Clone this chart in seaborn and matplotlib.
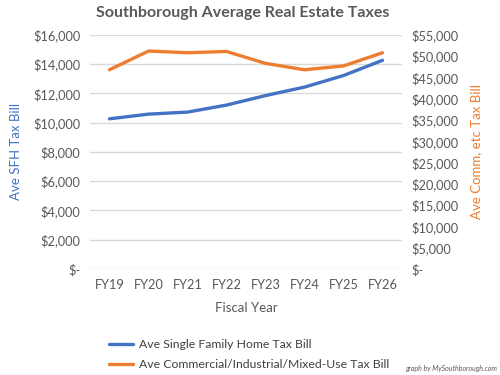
import pandas as pd
import numpy as np
import seaborn as sns
import matplotlib.pyplot as plt
from matplotlib.ticker import FuncFormatter

years = ["FY19", "FY20", "FY21", "FY22", "FY23", "FY24", "FY25", "FY26"]
sfh_bill = [10260, 10580, 10720, 11200, 11850, 12430, 13220, 14260]
comm_bill = [46800, 51200, 50800, 51100, 48300, 46800, 47700, 50800]

sns.set_theme(style="white")
plt.rcParams['font.family'] = ['Lato', 'DejaVu Sans']

blue = "#4472C4"
orange = "#ED7D31"
grey = "#595959"

df = pd.DataFrame({"year": years, "sfh": sfh_bill, "comm": comm_bill})
df["x"] = np.arange(len(years))

fig = plt.figure(figsize=(5, 3.75), dpi=100)
ax = fig.add_axes([0.18, 0.283, 0.624, 0.624])
ax2 = ax.twinx()

sns.lineplot(data=df, x="x", y="sfh", ax=ax, color=blue, linewidth=2.4,
             label="Ave Single Family Home Tax Bill", legend=False)
sns.lineplot(data=df, x="x", y="comm", ax=ax2, color=orange, linewidth=2.4,
             label="Ave Commercial/Industrial/Mixed-Use Tax Bill", legend=False)

def money(v, pos):
    return "$-" if v == 0 else f"${v:,.0f}"

ax.set_ylim(0, 16000)
ax.set_yticks(np.arange(0, 16001, 2000))
ax2.set_ylim(0, 55000)
ax2.set_yticks(np.arange(0, 55001, 5000))
ax.yaxis.set_major_formatter(FuncFormatter(money))
ax2.yaxis.set_major_formatter(FuncFormatter(money))
ax.set_xlim(-0.5, len(years) - 0.5)
ax.set_xticks(df["x"])
ax.set_xticklabels(years)

ax.grid(axis="y", color="#d9d9d9", linewidth=1)
ax.grid(axis="x", visible=False)
ax2.grid(False)
for a in (ax, ax2):
    for s in a.spines.values():
        s.set_visible(False)
    a.tick_params(length=0, labelsize=9.2, colors=grey, pad=7)

ax.set_xlabel("Fiscal Year", fontsize=9.5, color=grey, labelpad=8)
ax.set_ylabel("Ave SFH Tax Bill", fontsize=9.5, color=blue, labelpad=8)
ax2.set_ylabel("Ave Comm, etc Tax Bill", fontsize=9.5, color=orange, labelpad=8)

fig.suptitle("Southborough Average Real Estate Taxes", x=0.485, y=0.985,
             fontsize=11.5, fontweight="bold", color=grey)

h1, l1 = ax.get_legend_handles_labels()
h2, l2 = ax2.get_legend_handles_labels()
fig.legend(h1 + h2, l1 + l2, loc="upper left", bbox_to_anchor=(0.195, 0.124),
           frameon=False, fontsize=8.8, handlelength=2.0, labelspacing=0.7,
           handletextpad=0.5, labelcolor="#404040")

fig.text(0.995, 0.008, "graph by MySouthborough.com", ha="right", va="bottom",
         fontsize=5, style="italic", color=grey)

fig.savefig("out.png", dpi=100)
